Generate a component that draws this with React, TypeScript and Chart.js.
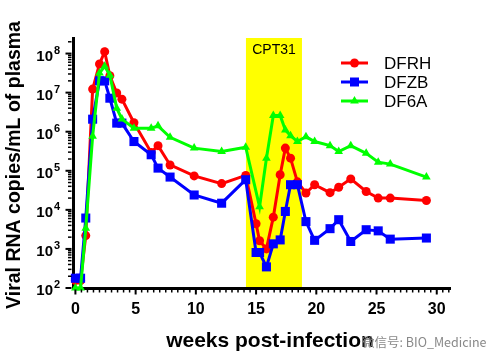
import React, { useEffect, useRef } from 'react';
import { Chart, registerables } from 'chart.js';

Chart.register(...registerables);

// weeks post-infection (sampling times)
const weeks = [0, 0.43, 0.86, 1.43, 2, 2.43, 2.86, 3.43, 3.86, 4.86, 6.29, 6.86, 7.86, 9.86, 12.14, 14.14, 15, 15.29, 15.86, 16.43, 17, 17.43, 17.86, 18.43, 19.14, 19.86, 21.14, 21.86, 22.86, 24.14, 25.14, 26.14, 29.14];

// viral RNA copies/mL of plasma
const dfrh = [155, 155, 2190, 1.23e7, 5.4e7, 1.12e8, 2.7e7, 9.8e6, 6.8e6, 1.7e6, 2.95e5, 4.4e5, 1.41e5, 7.4e4, 4.7e4, 7.6e4, 4400, 1620, 1000, 6500, 7.9e4, 3.8e5, 2.1e5, 5.2e4, 2.7e4, 4.4e4, 2.75e4, 3.8e4, 6.2e4, 2.95e4, 2.0e4, 2.0e4, 1.74e4];
const dfzb = [178, 178, 6170, 2.09e6, 2.0e7, 2.0e7, 7.2e6, 1.66e6, 1.66e6, 5.6e5, 2.57e5, 1.17e5, 6.9e4, 2.4e4, 1.48e4, 5.9e4, 810, 810, 347, 1350, 1700, 9100, 4.4e4, 4.4e4, 5000, 1660, 3300, 5600, 1550, 3100, 2900, 1780, 1900];
const df6a = [100, 100, 3390, 7.6e5, 3.16e7, 4.7e7, 2.8e7, 4.0e6, 2.1e6, 1.23e6, 1.23e6, 1.41e6, 7.2e5, 3.8e5, 3.1e5, 4.0e5, null, 1.2e4, 2.1e5, 2.6e6, 2.6e6, 1.1e6, 7.9e5, 5.6e5, 7.4e5, 5.6e5, 4.4e5, 3.1e5, 4.4e5, 2.8e5, 1.66e5, 1.48e5, 6.9e4];

const seriesNames = ['DFRH', 'DFZB', 'DF6A'];
const seriesColors = ['#FF0000', '#0000FF', '#00FF00'];
const seriesStyles = ['circle', 'rect', 'triangle'];

const xTickValues = [0, 5, 10, 15, 20, 25, 30];
const yTickExponents = [2, 3, 4, 5, 6, 7, 8];

const treatmentLabel = 'CPT31';
const treatmentStart = 14.16;
const treatmentEnd = 18.81;

const xTitle = 'weeks post-infection';
const yTitle = 'Viral RNA copies/mL of plasma';
const watermark = '微信号: BIO_Medicine';

const FONT = "'Liberation Sans', Arial, Helvetica, sans-serif";

function drawMarker(ctx: CanvasRenderingContext2D, style: string, x: number, y: number, color: string) {
  ctx.save();
  ctx.fillStyle = color;
  ctx.beginPath();
  if (style === 'circle') {
    ctx.arc(x, y, 4.5, 0, Math.PI * 2);
  } else if (style === 'rect') {
    ctx.rect(x - 4.5, y - 4.5, 9, 9);
  } else {
    const r = 5;
    ctx.moveTo(x, y - r);
    ctx.lineTo(x + r * 0.866, y + r * 0.5);
    ctx.lineTo(x - r * 0.866, y + r * 0.5);
    ctx.closePath();
  }
  ctx.fill();
  ctx.restore();
}

const bandPlugin = {
  id: 'band',
  beforeDraw(chart: any) {
    const { ctx, chartArea, scales } = chart;
    const x0 = scales.x.getPixelForValue(treatmentStart);
    const x1 = scales.x.getPixelForValue(treatmentEnd);
    ctx.save();
    ctx.fillStyle = '#FFFF00';
    ctx.fillRect(x0, chartArea.top, x1 - x0, chartArea.bottom - chartArea.top);
    ctx.fillStyle = '#000';
    ctx.font = `14px ${FONT}`;
    ctx.textAlign = 'center';
    ctx.textBaseline = 'middle';
    ctx.fillText(treatmentLabel, (x0 + x1) / 2, chartArea.top + 12);
    ctx.restore();
  },
};

const decorPlugin = {
  id: 'decor',
  afterDraw(chart: any) {
    const { ctx, chartArea, scales } = chart;
    ctx.save();
    ctx.strokeStyle = '#000';
    // y minor/major ticks
    const yl = chartArea.left - 1.5;
    for (let n = 2; n <= 8; n++) {
      for (let m = 1; m <= 9; m++) {
        const v = m * Math.pow(10, n);
        if (v > scales.y.max) continue;
        const py = scales.y.getPixelForValue(v);
        const major = m === 1;
        ctx.lineWidth = major ? 2 : 1.5;
        ctx.beginPath();
        ctx.moveTo(yl - (major ? 6 : 3.5), py);
        ctx.lineTo(yl, py);
        ctx.stroke();
      }
    }
    // y tick labels: 10 with superscript exponent
    ctx.fillStyle = '#000';
    ctx.textBaseline = 'middle';
    yTickExponents.forEach((e) => {
      const py = scales.y.getPixelForValue(Math.pow(10, e));
      ctx.font = `bold 15px ${FONT}`;
      ctx.textAlign = 'right';
      ctx.fillText('10', 53, py + 3);
      ctx.font = `bold 11px ${FONT}`;
      ctx.textAlign = 'left';
      ctx.fillText(String(e), 54, py - 3);
    });
    // x ticks every half week
    const yb = chartArea.bottom + 1.5;
    for (let w = 0; w <= 31; w += 0.5) {
      const px = scales.x.getPixelForValue(w);
      const major = w % 5 === 0;
      ctx.lineWidth = major ? 2 : 1.5;
      ctx.beginPath();
      ctx.moveTo(px, yb);
      ctx.lineTo(px, yb + (major ? 5 : 3));
      ctx.stroke();
    }
    // axis titles
    ctx.fillStyle = '#000';
    ctx.font = `bold 21px ${FONT}`;
    ctx.textAlign = 'center';
    ctx.textBaseline = 'middle';
    ctx.fillText(xTitle, 270, 341);
    ctx.save();
    ctx.translate(15, 165);
    ctx.rotate(-Math.PI / 2);
    ctx.font = `bold 19.5px ${FONT}`;
    ctx.fillText(yTitle, 0, 0);
    ctx.restore();
    // legend
    const lx0 = 341, lx1 = 368, ly = [63, 82, 101];
    seriesNames.forEach((name, i) => {
      ctx.strokeStyle = seriesColors[i];
      ctx.lineWidth = 3;
      ctx.beginPath();
      ctx.moveTo(lx0, ly[i]);
      ctx.lineTo(lx1, ly[i]);
      ctx.stroke();
      drawMarker(ctx, seriesStyles[i], (lx0 + lx1) / 2, ly[i], seriesColors[i]);
      ctx.fillStyle = '#000';
      ctx.font = `17px ${FONT}`;
      ctx.textAlign = 'left';
      ctx.textBaseline = 'middle';
      ctx.fillText(name, 384, ly[i] + 1);
    });
    ctx.restore();
  },
};

export default function App() {
  const ref = useRef<HTMLCanvasElement>(null);
  useEffect(() => {
    if (!ref.current) return;
    const series = [dfrh, dfzb, df6a];
    const chart = new Chart(ref.current, {
      type: 'line',
      data: {
        datasets: series.map((vals, i) => ({
          label: seriesNames[i],
          data: weeks.map((w, j) => ({ x: w, y: vals[j] })).filter((p) => p.y !== null),
          borderColor: seriesColors[i],
          backgroundColor: seriesColors[i],
          borderWidth: 3,
          pointStyle: seriesStyles[i] as any,
          pointRadius: seriesStyles[i] === 'rect' ? 6.4 : seriesStyles[i] === 'triangle' ? 5 : 4.5,
          pointBorderWidth: 0,
          tension: 0,
          clip: false as any,
          order: 2 - i,
        })),
      },
      options: {
        responsive: false,
        animation: false,
        layout: { padding: { top: 38, right: 47, left: 0, bottom: 0 } },
        plugins: { legend: { display: false }, tooltip: { enabled: false } },
        scales: {
          x: {
            type: 'linear',
            min: -0.2,
            max: 31.1,
            afterBuildTicks: (s: any) => { s.ticks = xTickValues.map((v) => ({ value: v })); },
            afterFit: (s: any) => { s.height = 74; },
            grid: { display: false },
            border: { display: true, color: '#000', width: 3 },
            ticks: { color: '#000', font: { family: FONT, size: 16, weight: 'bold' }, padding: 4, maxRotation: 0 },
            title: { display: false },
          },
          y: {
            type: 'logarithmic',
            min: 100,
            max: 2.5e8,
            afterBuildTicks: (s: any) => { s.ticks = yTickExponents.map((e) => ({ value: Math.pow(10, e) })); },
            afterFit: (s: any) => { s.width = 73; },
            grid: { display: false },
            border: { display: true, color: '#000', width: 3 },
            ticks: { display: false },
            title: { display: false },
          },
        },
      },
      plugins: [bandPlugin, decorPlugin],
    });
    return () => chart.destroy();
  }, []);
  return (
    <div style={{ position: 'fixed', left: 0, top: 0, width: 497, height: 362, background: '#fff' }}>
      <canvas ref={ref} width={497} height={362} style={{ display: 'block' }} />
      <span style={{ position: 'absolute', left: 362, top: 332, fontSize: 12.5, color: '#888', fontFamily: "'Noto Sans CJK SC', sans-serif", whiteSpace: 'nowrap' }}>{watermark}</span>
    </div>
  );
}
